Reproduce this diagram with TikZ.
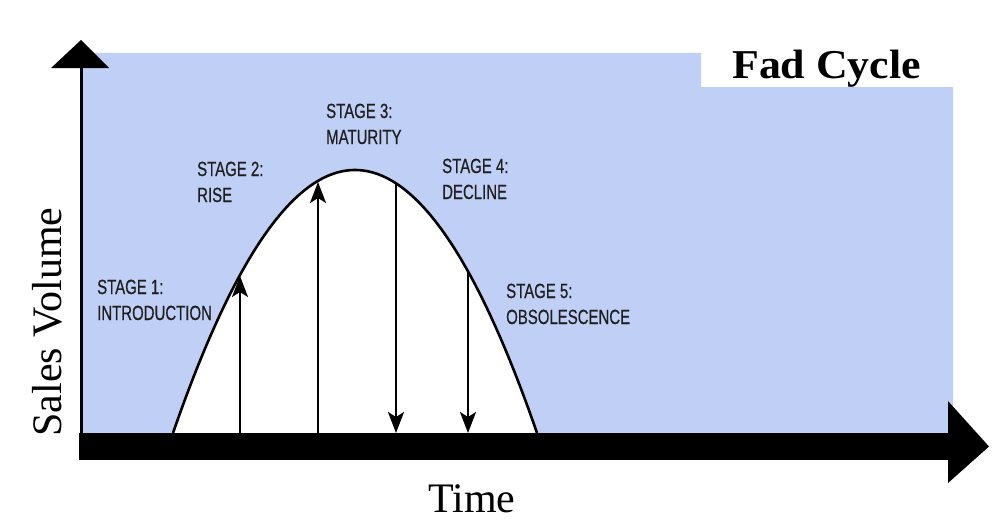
\documentclass[tikz,border=0pt]{standalone}
\usepackage{fontspec}
\setmainfont{Liberation Serif}
\newfontfamily\labfont{Liberation Sans}[FakeStretch=0.73,FakeBold=0.5]
\newfontfamily\titlefont{Liberation Serif}[FakeStretch=1.07]
\usetikzlibrary{arrows.meta}
\definecolor{bgblue}{RGB}{192,207,246}
\definecolor{labgray}{RGB}{30,30,30}
\tikzset{
  labeltext/.style={font=\labfont\fontsize{20.5}{26}\selectfont, text=labgray, align=left, inner sep=0pt, anchor=base west},
  axistext/.style={font=\fontsize{42}{48}\selectfont, inner sep=0pt, anchor=base},
  stagearrow/.style={line width=2.3pt, -{Stealth[length=21pt,width=16pt,inset=5pt]}},
  curveline/.style={line width=2.6pt},
}
\begin{document}
\begin{tikzpicture}[x=1pt,y=-1pt]
\useasboundingbox (0,0) rectangle (1000,527);
\fill[white] (0,0) rectangle (1000,527);
% blue background with notch
\fill[bgblue] (83,53) -- (701,53) -- (701,87) -- (953,87) -- (953,433) -- (83,433) -- cycle;
% white area under the curve
\fill[white] plot[domain=173:537, samples=120] (\x, {433-263*(1-((\x-355)/182)^2)}) -- cycle;
\draw[curveline] plot[domain=173:537, samples=120] (\x, {433-263*(1-((\x-355)/182)^2)});
% arrow end points
\coordinate (a1b) at (240,433); \coordinate (a1t) at (240,276);
\coordinate (a2b) at (318,433); \coordinate (a2t) at (318,182);
\coordinate (a3t) at (396,183); \coordinate (a3b) at (396,433);
\coordinate (a4t) at (468,271); \coordinate (a4b) at (468,433);
\draw[stagearrow] (a1b) -- (a1t);
\draw[stagearrow] (a2b) -- (a2t);
\draw[stagearrow] (a3t) -- (a3b);
\draw[stagearrow] (a4t) -- (a4b);
% vertical axis
\fill (79.5,66) rectangle (82.5,460);
\fill (51,68) -- (81,40) -- (109,68) -- cycle;
% horizontal axis bar
\fill (79,433) rectangle (949,460);
\fill (948,401) -- (989,446.5) -- (948,483) -- cycle;
% labels (anchor = baseline of last line)
\node[labeltext] (s1) at (97,320) {STAGE 1:\\INTRODUCTION};
\node[labeltext] (s2) at (197,202) {STAGE 2:\\RISE};
\node[labeltext] (s3) at (326,144) {STAGE 3:\\MATURITY};
\node[labeltext] (s4) at (442,199) {STAGE 4:\\DECLINE};
\node[labeltext] (s5) at (506,324) {STAGE 5:\\OBSOLESCENCE};
\node[axistext, rotate=90] (yl) at (61,322) {Sales Volume};
\node[axistext] (xl) at (472,512) {Time};
\node[inner sep=0pt, anchor=base west, font=\titlefont\bfseries\fontsize{41}{48}\selectfont] (title) at (732,78) {Fad Cycle};
\end{tikzpicture}
\end{document}
